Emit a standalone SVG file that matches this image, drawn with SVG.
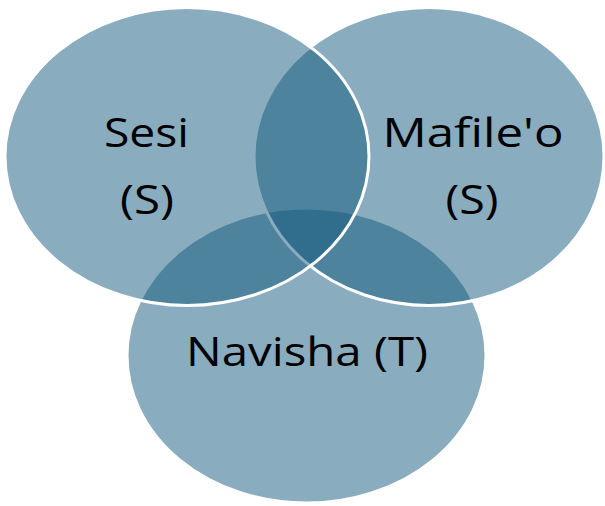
<svg xmlns="http://www.w3.org/2000/svg" width="605" height="506" viewBox="0 0 605 506">
  <style>
    .set { fill: #145a7d; fill-opacity: 0.5; stroke: #ffffff; stroke-width: 3; }
    .lbl { font-family: "Open Sans", "Noto Sans", sans-serif; font-size: 41px; fill: #000000; text-anchor: middle; }
  </style>
  <rect x="0" y="0" width="605" height="506" fill="#ffffff"/>
  <g id="navisha">
    <ellipse class="set" cx="306.5" cy="355.5" rx="179.5" ry="147.5"/>
    <text class="lbl" x="307" y="366" textLength="242" lengthAdjust="spacingAndGlyphs">Navisha (T)</text>
  </g>
  <g id="mafileo">
    <ellipse class="set" cx="429" cy="156.5" rx="175" ry="149"/>
    <text class="lbl" x="473" y="147" textLength="181" lengthAdjust="spacingAndGlyphs">Mafile'o</text>
    <text class="lbl" x="472" y="214" textLength="53" lengthAdjust="spacingAndGlyphs">(S)</text>
  </g>
  <g id="sesi">
    <ellipse class="set" cx="187" cy="156.5" rx="182" ry="149"/>
    <text class="lbl" x="146.5" y="147" textLength="85" lengthAdjust="spacingAndGlyphs">Sesi</text>
    <text class="lbl" x="147" y="214" textLength="54" lengthAdjust="spacingAndGlyphs">(S)</text>
  </g>
</svg>
